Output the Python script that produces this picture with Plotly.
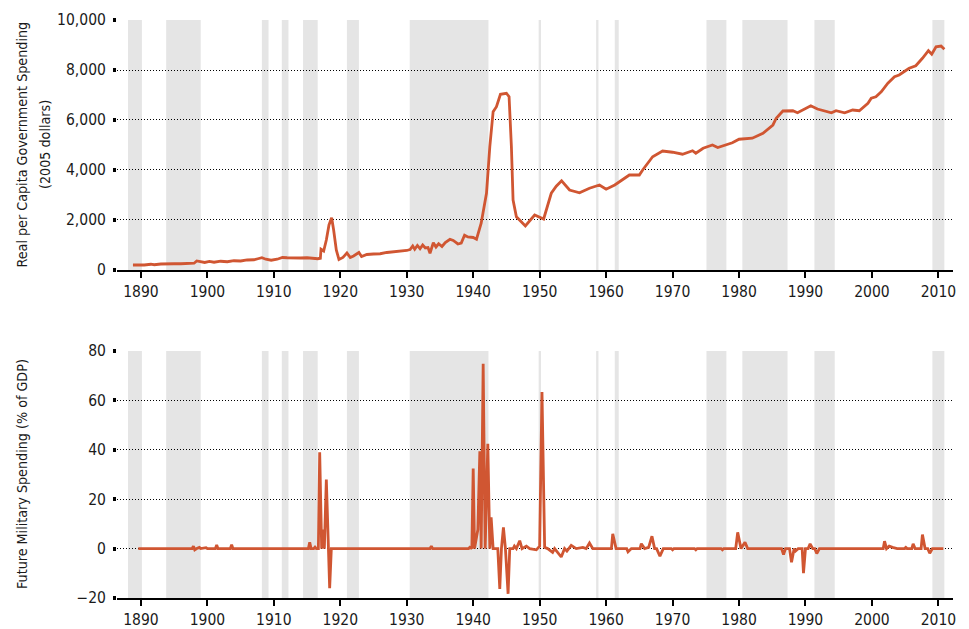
import plotly.graph_objects as go
from plotly.subplots import make_subplots

# ---------------- data ----------------
gov_years = [1888.8, 1889.5, 1890.0, 1890.5, 1891.5, 1892.0, 1893.0, 1894.0, 1895.0, 1896.0,
             1897.0, 1898.0, 1898.4, 1899.0, 1899.6, 1900.3, 1901.0, 1902.0, 1903.0, 1904.0,
             1905.0, 1906.0, 1907.0, 1907.6, 1908.2, 1908.8, 1909.6, 1910.5, 1911.3, 1912.0,
             1913.0, 1914.0, 1915.0, 1916.0, 1916.6, 1917.0, 1917.1, 1917.5, 1917.9, 1918.3,
             1918.7, 1919.0, 1919.4, 1919.8, 1920.4, 1921.0, 1921.5, 1922.0, 1922.8, 1923.2,
             1924.0, 1925.0, 1926.0, 1927.0, 1928.0, 1929.0, 1930.0, 1930.5, 1930.9, 1931.2,
             1931.6, 1932.0, 1932.4, 1932.8, 1933.2, 1933.5, 1934.0, 1934.4, 1934.8, 1935.3,
             1935.8, 1936.5, 1937.0, 1937.7, 1938.2, 1938.7, 1939.2, 1940.0, 1940.5, 1941.2,
             1942.0, 1942.5, 1943.0, 1943.5, 1944.1, 1945.0, 1945.4, 1945.75, 1946.0, 1946.5,
             1947.85, 1949.25, 1950.6, 1951.75, 1952.5, 1953.3, 1954.5, 1956.0, 1957.5, 1959.0,
             1960.0, 1961.3, 1962.8, 1963.5, 1965.0, 1965.5, 1967.0, 1968.5, 1970.0, 1971.5,
             1973.0, 1973.5, 1974.6, 1976.0, 1976.8, 1978.0, 1979.0, 1980.0, 1982.0, 1983.6,
             1985.1, 1985.6, 1986.6, 1988.1, 1988.8, 1990.8, 1991.8, 1993.9, 1994.6, 1995.9,
             1997.1, 1998.1, 1999.4, 1999.9, 2000.6, 2001.4, 2002.4, 2003.4, 2004.1, 2005.6,
             2006.6, 2007.6, 2008.5, 2009.0, 2009.65, 2010.4, 2010.9]
gov_values = [200, 190, 210, 200, 230, 210, 240, 230, 250, 250,
              260, 270, 360, 330, 300, 340, 310, 350, 330, 370,
              360, 400, 410, 450, 490, 430, 390, 430, 500, 490,
              470, 480, 490, 460, 450, 470, 830, 760, 1200, 1800,
              2090, 1600, 800, 420, 500, 680, 500, 560, 700, 540,
              620, 640, 650, 700, 720, 760, 780, 820, 960, 830,
              980, 850, 1000, 880, 900, 670, 1090, 920, 1050, 940,
              1100, 1230, 1180, 1040, 1080, 1390, 1320, 1300, 1230, 1870,
              3070, 4930, 6330, 6530, 7030, 7070, 6930, 4930, 2800, 2130,
              1760, 2200, 2040, 3070, 3350, 3570, 3200, 3090, 3270, 3400,
              3230, 3400, 3690, 3800, 3800, 4000, 4530, 4760, 4710, 4630,
              4770, 4670, 4870, 5000, 4900, 5000, 5090, 5230, 5270, 5470,
              5800, 6070, 6360, 6370, 6290, 6570, 6440, 6290, 6370, 6290,
              6400, 6370, 6670, 6870, 6930, 7130, 7470, 7730, 7800, 8070,
              8170, 8470, 8770, 8630, 8930, 8960, 8830]

mil_years = [1889.6, 1897.7, 1897.9, 1898.1, 1898.4, 1898.8, 1899.0, 1899.8, 1900.0, 1901.2,
             1901.4, 1901.6, 1903.45, 1903.65, 1903.85, 1915.2, 1915.4, 1915.6, 1916.0, 1916.2,
             1916.4, 1916.7, 1916.9, 1917.2, 1917.4, 1917.6, 1917.9, 1918.15, 1918.4, 1918.65,
             1933.5, 1933.7, 1933.9, 1939.3, 1939.5, 1939.8, 1940.0, 1940.2, 1940.5, 1940.7,
             1941.0, 1941.2, 1941.5, 1941.8, 1942.2, 1942.5, 1942.7, 1943.0, 1943.7, 1944.0,
             1944.25, 1944.55, 1944.85, 1945.25, 1945.5, 1946.0, 1946.2, 1946.5, 1947.0, 1947.35,
             1948.0, 1948.5, 1949.5, 1950.0, 1950.35, 1950.75, 1951.2, 1951.95, 1952.25, 1952.75,
             1953.25, 1953.75, 1954.1, 1954.75, 1955.5, 1956.5, 1957.0, 1957.5, 1958.0, 1960.8,
             1961.0, 1961.5, 1963.1, 1963.3, 1963.8, 1965.1, 1965.3, 1965.8, 1966.4, 1966.9,
             1967.3, 1967.6, 1968.1, 1968.6, 1969.8, 1970.0, 1970.2, 1973.3, 1973.5, 1973.7,
             1977.3, 1977.5, 1977.7, 1979.5, 1979.8, 1980.3, 1980.9, 1981.3, 1986.4, 1986.7,
             1987.0, 1987.6, 1987.9, 1988.3, 1988.5, 1988.9, 1989.5, 1989.7, 1990.0, 1990.4,
             1990.7, 1991.1, 1991.4, 1991.7, 1992.1, 2001.7, 2001.9, 2002.2, 2002.6, 2003.1,
             2003.8, 2004.9, 2005.1, 2005.3, 2006.0, 2006.2, 2006.5, 2007.4, 2007.6, 2008.0,
             2008.4, 2008.7, 2009.1, 2010.75]
mil_values = [0, 0, 1, -0.5, 0, 0.5, 0, 0.4, 0, 0,
              1.5, 0, 0, 1.6, 0, 0, 2.6, 0, 0, 0.6,
              0, 0, 39, 0, 7.7, 0, 28, 0, -16, 0,
              0, 1, 0, 0, 0.5, 0, 32.4, 0, 5, 7.7,
              39.4, 0, 74.8, 0, 42.4, 0, 12.7, 0, 0, -16.3,
              0, 8.6, 0, -18.3, 0, 0, 1, 0, 3.2, 0,
              1, 0, -0.5, 1, 63.4, 0.5, 0, -1.5, 0, -1.5,
              -3.4, 0, -1, 1.3, 0, 0.5, 0, 2.3, 0, 0,
              6, 0, 0, -1.3, 0, 0, 2, 0, 0.5, 5,
              0, 0, -3.1, 0, 0, -0.5, 0, 0, -0.5, 0,
              0, -0.5, 0, 0, 6.6, 0, 2.6, 0, 0, -2.4,
              0, 0, -5.5, 0, -1, 0, 0, -9.9, 0, 0,
              1.9, 0, 0, -2, 0, 0, 3, 0, 1, 0.5,
              0, 0, 0.5, 0, 0, 1.9, 0, 0, 5.7, 0,
              0, -1.9, 0, 0]

band_starts = [1888.05, 1893.8, 1908.2, 1911.2, 1914.4, 1921.0, 1930.45, 1949.85, 1958.5,
               1961.3, 1975.1, 1980.5, 1991.35, 2009.1]
band_ends = [1890.15, 1899.0, 1909.2, 1912.2, 1916.6, 1922.8, 1942.3, 1950.2, 1958.85,
             1961.9, 1978.1, 1987.3, 1994.4, 2010.9]

x_ticks = list(range(1890, 2011, 10))
gov_ticks = [0, 2000, 4000, 6000, 8000, 10000]
mil_ticks = [-20, 0, 20, 40, 60, 80]

top_title_1 = "Real per Capita Government Spending"
top_title_2 = "(2005 dollars)"
bottom_title = "Future Military Spending (% of GDP)"

# ---------------- figure ----------------
FONT = "DejaVu Sans Condensed, Liberation Sans Narrow, sans-serif"
LINE = "#d05632"
TXT = "#1a1a1a"

fig = make_subplots(rows=2, cols=1, vertical_spacing=0.14)

fig.add_trace(go.Scatter(x=gov_years, y=gov_values, mode="lines",
                         line=dict(color=LINE, width=2.8), showlegend=False,
                         hoverinfo="skip"), row=1, col=1)
fig.add_trace(go.Scatter(x=mil_years, y=mil_values, mode="lines",
                         line=dict(color=LINE, width=2.8), showlegend=False,
                         hoverinfo="skip"), row=2, col=1)

for xr, yr in (("x", "y domain"), ("x2", "y2 domain")):
    for s, e in zip(band_starts, band_ends):
        fig.add_shape(type="rect", xref=xr, yref=yr, x0=s, x1=e, y0=0, y1=1,
                      fillcolor="#e5e5e5", line=dict(width=0), layer="below")

x_common = dict(range=[1886.4, 2012.2], tickvals=x_ticks, showgrid=False,
                showline=True, linecolor="black", linewidth=2, ticks="outside",
                ticklen=6, tickwidth=1.5, tickcolor="black", zeroline=False,
                automargin=False, tickfont=dict(size=15.5, color=TXT))
y_common = dict(showgrid=True, gridcolor="black", griddash="1px,2px", gridwidth=1,
                showline=False, zeroline=False, ticks="outside", ticklen=3,
                tickwidth=4, tickcolor="black", automargin=False,
                ticklabelstandoff=4, tickfont=dict(size=15.5, color=TXT))

fig.update_layout(
    width=969, height=629,
    margin=dict(l=117, r=16, t=20, b=31),
    paper_bgcolor="white", plot_bgcolor="white",
    font=dict(family=FONT, color=TXT),
    xaxis=dict(**x_common, domain=[0, 1]),
    xaxis2=dict(**x_common, domain=[0, 1]),
    yaxis=dict(**y_common, range=[0, 10000], tickvals=gov_ticks, tickformat=",d",
               domain=[0.5675, 1]),
    yaxis2=dict(**y_common, range=[-20, 80], tickvals=mil_ticks,
                domain=[0, 0.4273]),
)

PW = 836.0
fig.add_annotation(text=top_title_1, xref="paper", yref="y domain", x=(21.5 - 117) / PW,
                   y=0.5, textangle=-90, showarrow=False, xanchor="center",
                   yanchor="middle", font=dict(size=14.2, family=FONT, color=TXT))
fig.add_annotation(text=top_title_2, xref="paper", yref="y domain", x=(45 - 117) / PW,
                   y=0.5, textangle=-90, showarrow=False, xanchor="center",
                   yanchor="middle", font=dict(size=14.2, family=FONT, color=TXT))
fig.add_annotation(text=bottom_title, xref="paper", yref="y2 domain", x=(21.5 - 117) / PW,
                   y=0.5, textangle=-90, showarrow=False, xanchor="center",
                   yanchor="middle", font=dict(size=14.2, family=FONT, color=TXT))

# remove the default 8px page margin so the figure sits at the window's corner
fig.write_html("out.html", config={"displayModeBar": False},
               post_script="document.body.style.margin='0';")
